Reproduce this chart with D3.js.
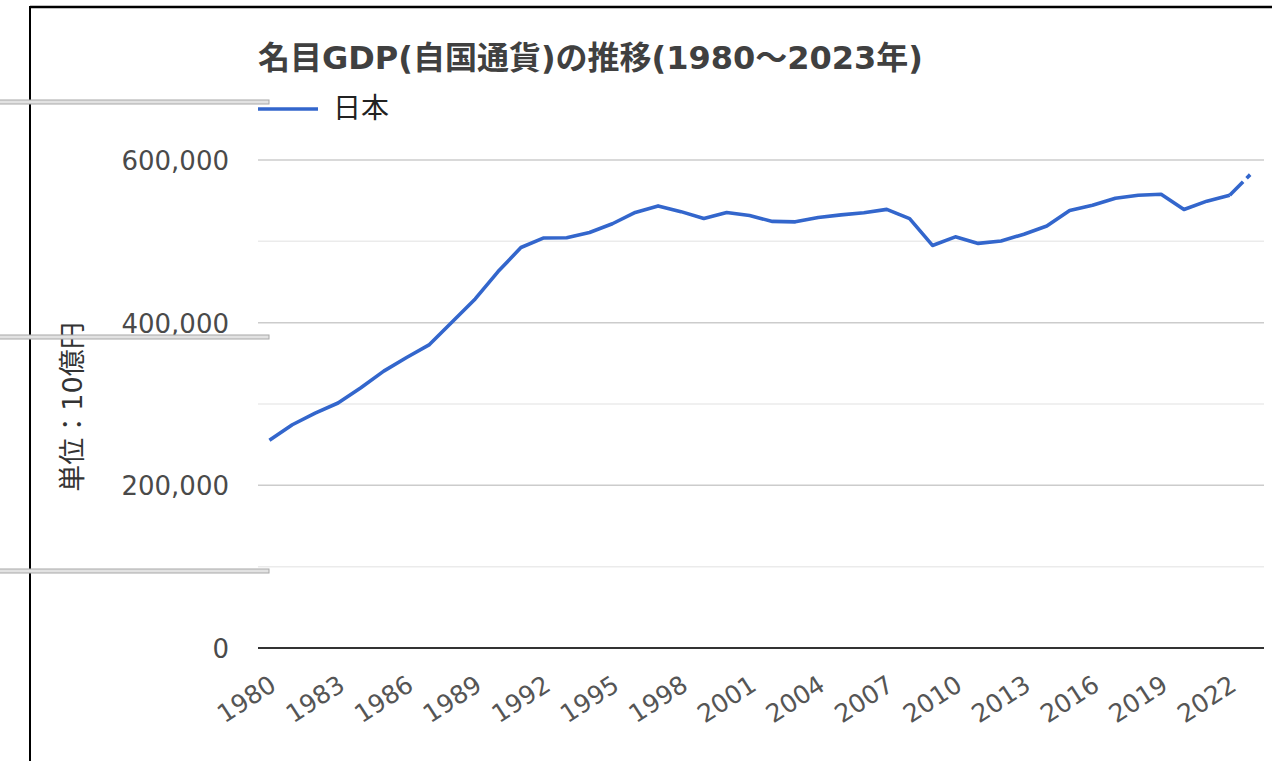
<!DOCTYPE html>
<html>
<head>
<meta charset="utf-8">
<script src="https://cdn.jsdelivr.net/npm/d3@7"></script>
<style>
  html, body { margin: 0; padding: 0; background: #fff; }
  svg { display: block; }
</style>
</head>
<body>
<svg id="chart" width="1272" height="761"></svg>
<script>
// data --
const years = d3.range(1980, 2024).map(String);
const gdp = [
  255331, 274487, 288721, 301213, 319963, 340394, 357140, 373049, 401024, 429190,
  462842, 492377, 504161, 504497, 510916, 521614, 535562, 543545, 536497, 528070,
  535418, 531654, 524479, 523969, 529401, 532516, 535170, 539282, 527823, 494938,
  505531, 497449, 500475, 508701, 518811, 538032, 544365, 553073, 556630, 557911,
  539082, 549379, 556710, 585000
];
const estimateFrom = "2022"; // last segment is an estimate (dashed)
const yTicks = [0, 200000, 400000, 600000];
const yMinorTicks = [100000, 300000, 500000];
const xTickLabels = years.filter((y, i) => i % 3 === 0);
const title = "名目GDP(自国通貨)の推移(1980～2023年)";
const seriesName = "日本";
const axisTitle = "単位：10億円";

const font = "'DejaVu Sans', 'Noto Sans CJK JP', sans-serif";
const blue = "#3366cc";

const svg = d3.select("#chart");

// plot area
const plotLeft = 258, plotRight = 1264, plotTop = 160, plotBottom = 648;

const x = d3.scalePoint().domain(years).range([plotLeft, plotRight]).padding(0.5);
const y = d3.scaleLinear().domain([0, 600000]).range([plotBottom, plotTop]);

// gridlines
svg.append("g")
  .selectAll("line")
  .data(yMinorTicks)
  .enter()
  .append("line")
  .attr("x1", plotLeft).attr("x2", plotRight)
  .attr("y1", (d) => y(d)).attr("y2", (d) => y(d))
  .attr("stroke", "#ebebeb")
  .attr("stroke-width", 1.5);

svg.append("g")
  .selectAll("line")
  .data(yTicks.filter((d) => d !== 0))
  .enter()
  .append("line")
  .attr("x1", plotLeft).attr("x2", plotRight)
  .attr("y1", (d) => y(d)).attr("y2", (d) => y(d))
  .attr("stroke", "#cccccc")
  .attr("stroke-width", 1.5);

// y axis labels
const yAxis = d3.axisLeft(y)
  .tickValues(yTicks)
  .tickSize(0)
  .tickPadding(0)
  .tickFormat(d3.format(","));

const gy = svg.append("g").attr("transform", `translate(229, 0)`).call(yAxis);
gy.select(".domain").remove();
gy.selectAll("text")
  .attr("font-family", font)
  .attr("font-size", 26)
  .attr("fill", "#4a4a4a")
  .attr("dy", "0.36em");

// baseline
svg.append("line")
  .attr("x1", plotLeft).attr("x2", plotRight)
  .attr("y1", y(0)).attr("y2", y(0))
  .attr("stroke", "#333")
  .attr("stroke-width", 2);

// x axis labels
const xAxis = d3.axisBottom(x)
  .tickValues(xTickLabels)
  .tickSize(0)
  .tickPadding(0);

const gx = svg.append("g").attr("transform", `translate(0, ${plotBottom})`).call(xAxis);
gx.select(".domain").remove();
gx.selectAll("text")
  .attr("font-family", font)
  .attr("font-size", 25)
  .attr("fill", "#555")
  .attr("text-anchor", "end")
  .attr("dy", null)
  .attr("y", null)
  .attr("transform", "translate(8, 41) rotate(-33)");

// line
const points = years.map((yr, i) => [yr, gdp[i]]);
const cut = years.indexOf(estimateFrom);
const line = d3.line()
  .x((d) => x(d[0]))
  .y((d) => y(d[1]));

svg.append("path")
  .datum(points.slice(0, cut + 1))
  .attr("d", line)
  .attr("fill", "none")
  .attr("stroke", blue)
  .attr("stroke-width", 3.6)
  .attr("stroke-linejoin", "round");

svg.append("path")
  .datum(points.slice(cut))
  .attr("d", line)
  .attr("fill", "none")
  .attr("stroke", blue)
  .attr("stroke-width", 3.6)
  .attr("stroke-dasharray", "19,5,5,20");

// title
svg.append("text")
  .attr("x", 258)
  .attr("y", 69)
  .attr("font-family", font)
  .attr("font-size", 32)
  .attr("font-weight", "bold")
  .attr("fill", "#404040")
  .text(title);

// legend
svg.append("line")
  .attr("x1", 258).attr("x2", 318)
  .attr("y1", 109).attr("y2", 109)
  .attr("stroke", blue)
  .attr("stroke-width", 3.5);

svg.append("text")
  .attr("x", 333)
  .attr("y", 118)
  .attr("font-family", font)
  .attr("font-size", 28)
  .attr("fill", "#222")
  .text(seriesName);

// axis title
svg.append("text")
  .attr("transform", `translate(82, 407) rotate(-90)`)
  .attr("text-anchor", "middle")
  .attr("font-family", font)
  .attr("font-size", 27)
  .attr("fill", "#333")
  .text(axisTitle);

// frame lines from the screenshot
svg.append("line")
  .attr("x1", 30).attr("x2", 1272)
  .attr("y1", 7).attr("y2", 7)
  .attr("stroke", "#000")
  .attr("stroke-width", 2.5);

svg.append("line")
  .attr("x1", 30).attr("x2", 30)
  .attr("y1", 6).attr("y2", 761)
  .attr("stroke", "#000")
  .attr("stroke-width", 2);

svg.append("g")
  .selectAll("rect")
  .data([100, 335, 569])
  .enter()
  .append("rect")
  .attr("x", -1)
  .attr("y", (d) => d)
  .attr("width", 270)
  .attr("height", 4)
  .attr("fill", "#e2e2e2")
  .attr("stroke", "#a8a8a8")
  .attr("stroke-width", 1);
</script>
</body>
</html>
